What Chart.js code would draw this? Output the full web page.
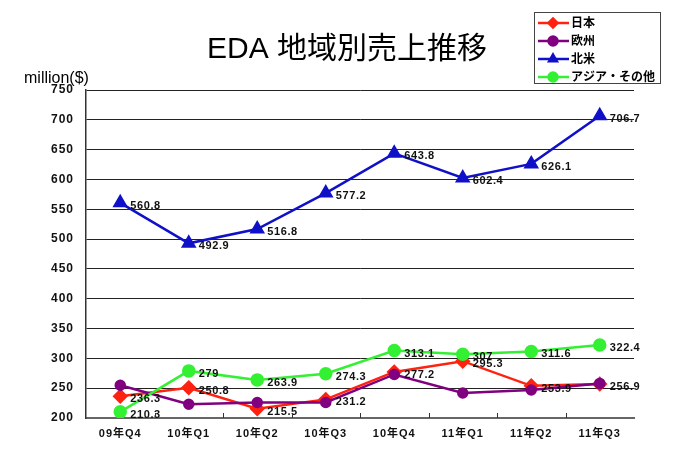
<!DOCTYPE html>
<html>
<head>
<meta charset="utf-8">
<script src="https://cdn.jsdelivr.net/npm/chart.js@4"></script>
<style>
  html, body { margin: 0; padding: 0; background: #fff; }
  #wrap { width: 700px; height: 471px; }
</style>
</head>
<body>
<div id="wrap"><canvas id="myChart"></canvas></div>
<script>
const quarters = ['09年Q4', '10年Q1', '10年Q2', '10年Q3', '10年Q4', '11年Q1', '11年Q2', '11年Q3'];
const japan = [236.3, 250.8, 215.5, 231.2, 277.2, 295.3, 253.9, 256.9];
const europe = [255, 223, 226, 226, 273, 242, 247, 258];
const northAmerica = [560.8, 492.9, 516.8, 577.2, 643.8, 602.4, 626.1, 706.7];
const asiaOther = [210.3, 279, 263.9, 274.3, 313.1, 307, 311.6, 322.4];
const seriesNames = ['日本', '欧州', '北米', 'アジア・その他'];
const chartTitle = 'EDA 地域別売上推移';

const FONT = '"Liberation Sans", Arial, "Noto Sans CJK JP", sans-serif';

// reference uses slightly spaced bold text for axes
const spacing = {
    id: 'spacing',
    beforeDraw(chart) {
        chart.ctx.letterSpacing = '1px';
    }
};

// value labels to the right of the points (europe has none)
const valueLabels = {
    id: 'valueLabels',
    afterDatasetsDraw(chart) {
        const {ctx} = chart;
        ctx.save();
        ctx.letterSpacing = '0.6px';
        ctx.font = 'bold 11px ' + FONT;
        ctx.fillStyle = '#111';
        ctx.textBaseline = 'middle';
        ctx.textAlign = 'left';
        chart.data.datasets.forEach((ds, i) => {
            if (!ds.showLabels) return;
            chart.getDatasetMeta(i).data.forEach((pt, j) => {
                ctx.fillText(String(ds.data[j]), pt.x + 10, pt.y + 3);
            });
        });
        ctx.restore();
    }
};

// title, axis unit, small x ticks and the boxed legend
const extras = {
    id: 'extras',
    afterDraw(chart) {
        const {ctx, chartArea: {bottom}, scales: {x}} = chart;
        ctx.save();
        ctx.letterSpacing = '0px';
        ctx.fillStyle = '#000';
        ctx.textBaseline = 'middle';
        ctx.textAlign = 'center';
        ctx.font = '30px ' + FONT;
        ctx.fillText(chartTitle, 347, 50);

        ctx.textAlign = 'left';
        ctx.font = '16px ' + FONT;
        ctx.fillText('million($)', 24, 79);

        ctx.strokeStyle = '#333';
        ctx.lineWidth = 1;
        for (let i = 1; i < quarters.length; i++) {
            const px = Math.round((x.getPixelForValue(i - 1) + x.getPixelForValue(i)) / 2) + 0.5;
            ctx.beginPath();
            ctx.moveTo(px, bottom);
            ctx.lineTo(px, bottom - 5);
            ctx.stroke();
        }

        // legend
        ctx.strokeStyle = '#444';
        ctx.strokeRect(534.5, 12.5, 126, 71);
        const rows = [23, 41, 59, 77];
        chart.data.datasets.forEach((ds, i) => {
            const y = rows[i];
            ctx.strokeStyle = ds.borderColor;
            ctx.lineWidth = 2.5;
            ctx.beginPath();
            ctx.moveTo(538, y);
            ctx.lineTo(569, y);
            ctx.stroke();
            Chart.helpers.drawPoint(ctx, {
                pointStyle: ds.pointStyle, radius: 4.5, rotation: 0, borderWidth: 1
            }, 553, y);
            ctx.fillStyle = ds.borderColor;
            ctx.fill();
            ctx.fillStyle = '#000';
            ctx.font = 'bold 12px ' + FONT;
            ctx.fillText(seriesNames[i], 571, y + 1);
        });
        ctx.restore();
    }
};

new Chart(document.getElementById('myChart'), {
    type: 'line',
    data: {
        labels: quarters,
        datasets: [
            {label: seriesNames[0], data: japan, borderColor: '#ff2211', backgroundColor: '#ff2211',
             pointStyle: 'rectRot', pointRadius: 6, borderWidth: 2.5, order: 4, showLabels: true},
            {label: seriesNames[1], data: europe, borderColor: '#800080', backgroundColor: '#800080',
             pointStyle: 'circle', pointRadius: 4.5, borderWidth: 2.5, order: 3, showLabels: false},
            {label: seriesNames[2], data: northAmerica, borderColor: '#1010c8', backgroundColor: '#1010c8',
             pointStyle: 'triangle', pointRadius: 6.5, borderWidth: 2.5, order: 2, showLabels: true},
            {label: seriesNames[3], data: asiaOther, borderColor: '#33f033', backgroundColor: '#33f033',
             pointStyle: 'circle', pointRadius: 5.5, borderWidth: 2.5, order: 1, showLabels: true}
        ]
    },
    options: {
        responsive: true,
        maintainAspectRatio: false,
        animation: false,
        layout: {padding: {left: 0, right: 66, top: 90, bottom: 0}},
        plugins: {
            legend: {display: false},
            tooltip: {enabled: false},
            title: {display: false}
        },
        scales: {
            x: {
                offset: true,
                grid: {display: false, drawTicks: false},
                border: {color: '#666', width: 2},
                ticks: {color: '#111', padding: 9, font: {family: FONT, size: 11, weight: 'bold'}},
                afterFit: s => { s.height = 53; }
            },
            y: {
                min: 200,
                max: 750,
                grid: {color: '#222', lineWidth: 1, drawTicks: false},
                border: {color: '#333', width: 1.5},
                ticks: {stepSize: 50, color: '#111', padding: 12, font: {family: FONT, size: 12, weight: 'bold'}},
                afterFit: s => { s.width = 86; }
            }
        }
    },
    plugins: [spacing, valueLabels, extras]
});
</script>
</body>
</html>
